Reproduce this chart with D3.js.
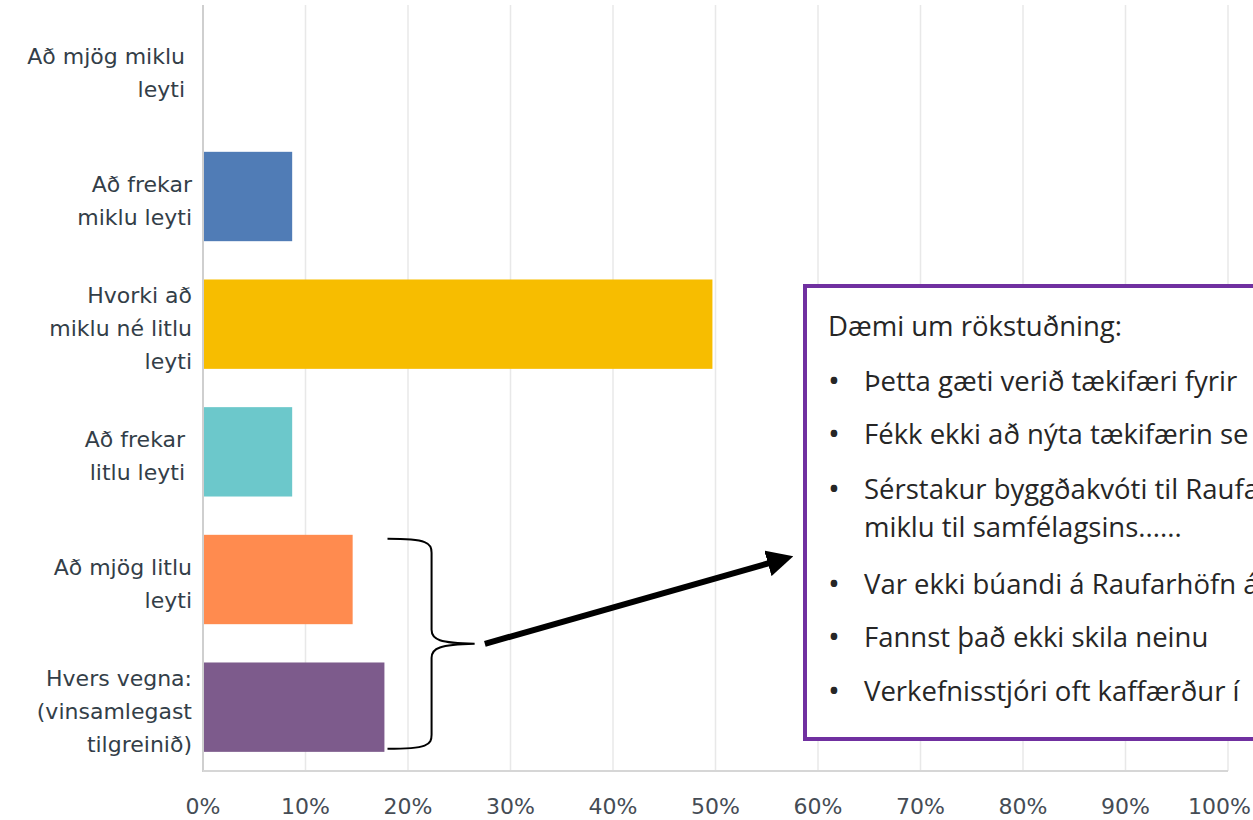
<!DOCTYPE html>
<html>
<head>
<meta charset="utf-8">
<script src="https://cdn.jsdelivr.net/npm/d3@7"></script>
<style>
  html, body { margin: 0; padding: 0; background: #fff; }
  svg { display: block; }
</style>
</head>
<body>
<svg id="chart"></svg>
<script>
// answer categories (label lines) and their share of respondents
const categories = [
  ["Að mjög miklu\u00a0", "leyti\u00a0"],
  ["Að frekar", "miklu leyti"],
  ["Hvorki að", "miklu né litlu", "leyti"],
  ["Að frekar\u00a0", "litlu leyti\u00a0"],
  ["Að mjög litlu", "leyti"],
  ["Hvers vegna:", "(vinsamlegast", "tilgreinið)"]
];
const values = [0, 0.087, 0.497, 0.087, 0.146, 0.177];
const barColors = ["#507cb6", "#507cb6", "#f7bd00", "#6cc8cb", "#ff8b4f", "#7d5b8c"];
const ticks = [0, 0.1, 0.2, 0.3, 0.4, 0.5, 0.6, 0.7, 0.8, 0.9, 1];

// text in the callout box (cut off by the right edge, as in the source slide)
const boxTitle = "Dæmi um rökstuðning:";
const boxItems = [
  ["Þetta gæti verið tækifæri fyrir"],
  ["Fékk ekki að nýta tækifærin se"],
  ["Sérstakur byggðakvóti til Raufa", "miklu til samfélagsins......"],
  ["Var ekki búandi á Raufarhöfn á"],
  ["Fannst það ekki skila neinu"],
  ["Verkefnisstjóri oft kaffærður í"]
];

const W = 1253, H = 820;
const svg = d3.select("#chart").attr("width", W).attr("height", H);

const x = d3.scaleLinear().domain([0, 1]).range([203, 1228]);
const y = d3.scaleBand()
  .domain(d3.range(categories.length))
  .range([5, 771])
  .paddingInner(0.3)
  .paddingOuter(0.15);

const chartFont = "'DejaVu Sans', sans-serif";

// grid
svg.append("g")
  .selectAll("line")
  .data(ticks.slice(1))
  .join("line")
  .attr("x1", d => x(d)).attr("x2", d => x(d))
  .attr("y1", 5).attr("y2", 771)
  .attr("stroke", "#e8e8e8").attr("stroke-width", 1.5);

// bars
svg.append("g")
  .selectAll("rect")
  .data(values)
  .join("rect")
  .attr("x", x(0))
  .attr("y", (d, i) => y(i))
  .attr("width", d => x(d) - x(0))
  .attr("height", y.bandwidth())
  .attr("fill", (d, i) => barColors[i]);

// axis lines
svg.append("line")
  .attr("x1", x(0)).attr("x2", x(0)).attr("y1", 5).attr("y2", 772)
  .attr("stroke", "#cfcfcf").attr("stroke-width", 2);
svg.append("line")
  .attr("x1", x(0)).attr("x2", x(1)).attr("y1", 771).attr("y2", 771)
  .attr("stroke", "#d6d6d6").attr("stroke-width", 2);

// x tick labels (the last one is pulled in so it stays on the page)
svg.append("g")
  .selectAll("text")
  .data(ticks)
  .join("text")
  .attr("x", d => d === 1 ? W - 2 : x(d))
  .attr("y", 814)
  .attr("text-anchor", d => d === 1 ? "end" : "middle")
  .attr("font-family", chartFont)
  .attr("font-size", 22)
  .attr("fill", "#454c55")
  .text(d => Math.round(d * 100) + "%");

// category labels
const lineH = 33;
svg.append("g")
  .selectAll("text")
  .data(categories)
  .join("text")
  .attr("text-anchor", "end")
  .attr("font-family", chartFont)
  .attr("font-size", 22)
  .attr("fill", "#333e48")
  .each(function (lines, i) {
    const cy = y(i) + y.bandwidth() / 2;
    const top = cy - (lines.length - 1) * lineH / 2 + 12;
    d3.select(this).selectAll("tspan")
      .data(lines)
      .join("tspan")
      .attr("x", 192)
      .attr("y", (l, j) => top + j * lineH)
      .text(l => l);
  });

// brace around the last two bars
const b0 = x(0.18), bm = x(0.223), bt = x(0.265);
const yTop = y(4) + 4, yBot = y(5) + y.bandwidth() - 3;
const yMid = (yTop + yBot) / 2;
const brace = d3.path();
brace.moveTo(b0, yTop);
brace.bezierCurveTo(bm - 4, yTop, bm, yTop + 4, bm, yTop + 14);
brace.lineTo(bm, yMid - 14);
brace.bezierCurveTo(bm, yMid - 4, bm + 8, yMid - 1, bt, yMid);
brace.bezierCurveTo(bm + 8, yMid + 1, bm, yMid + 4, bm, yMid + 14);
brace.lineTo(bm, yBot - 14);
brace.bezierCurveTo(bm, yBot - 4, bm - 4, yBot, b0, yBot);
svg.append("path")
  .attr("d", brace.toString())
  .attr("fill", "none")
  .attr("stroke", "#000")
  .attr("stroke-width", 2);

// arrow to the callout
svg.append("defs").append("marker")
  .attr("id", "head")
  .attr("viewBox", "0 0 10 10")
  .attr("refX", 2).attr("refY", 5)
  .attr("markerWidth", 4.4).attr("markerHeight", 4.4)
  .attr("orient", "auto")
  .append("path")
  .attr("d", "M0,0 L10,5 L0,10 z")
  .attr("fill", "#000");

const boxX = 805, boxY = 286, boxB = 739;
svg.append("line")
  .attr("x1", x(0.275)).attr("y1", yMid)
  .attr("x2", boxX - 32).attr("y2", 562)
  .attr("stroke", "#000").attr("stroke-width", 6)
  .attr("marker-end", "url(#head)");

// callout box
svg.append("rect")
  .attr("x", boxX).attr("y", boxY)
  .attr("width", 520).attr("height", boxB - boxY)
  .attr("fill", "#fff")
  .attr("stroke", "#7030a0").attr("stroke-width", 4);

const boxFont = "'Open Sans', sans-serif";
const boxSize = 27.5;
svg.append("text")
  .attr("x", 828).attr("y", 336)
  .attr("font-family", boxFont).attr("font-size", boxSize)
  .attr("fill", "#262626")
  .text(boxTitle);

const itemY = [391, 444, 499, 594, 647, 701];
const items = svg.append("g")
  .attr("font-family", boxFont).attr("font-size", boxSize)
  .attr("fill", "#262626");
boxItems.forEach((lines, i) => {
  items.append("text")
    .attr("x", 828).attr("y", itemY[i] + 1)
    .attr("font-size", boxSize * 1.15)
    .text("•");
  lines.forEach((l, j) => {
    items.append("text")
      .attr("x", 864).attr("y", itemY[i] + j * 38)
      .text(l);
  });
});
</script>
</body>
</html>
